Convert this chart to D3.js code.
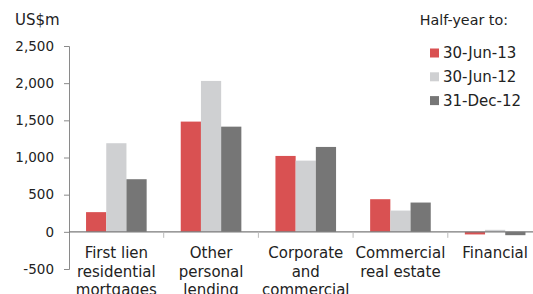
<!DOCTYPE html>
<html>
<head>
<meta charset="utf-8">
<script src="https://cdn.jsdelivr.net/npm/d3@7"></script>
<style>
body { margin: 0; background: #fff; }
svg { display: block; font-family: "DejaVu Sans", sans-serif; }
</style>
</head>
<body>
<script>
var width = 533;
var height = 294;

// data
var categories = ["First lien residential mortgages", "Other personal lending", "Corporate and commercial", "Commercial real estate", "Financial"];
var catLines = [["First lien", "residential", "mortgages"], ["Other", "personal", "lending"], ["Corporate", "and", "commercial"], ["Commercial", "real estate"], ["Financial"]];
var series = ["30-Jun-13", "30-Jun-12", "31-Dec-12"];
var jun13 = [265, 1483, 1021, 439, -35];
var jun12 = [1192, 2030, 958, 286, 27];
var dec12 = [708, 1415, 1142, 394, -45];
var yTicks = [-500, 0, 500, 1000, 1500, 2000, 2500];
var colors = ["#d95152", "#cfd0d2", "#767676"];

var values = [jun13, jun12, dec12];

var svgTag = d3.select("body").append("svg")
	.attr("width", width)
	.attr("height", height);

var x = d3.scaleBand()
	.domain(categories)
	.range([69, 69 + 5 * 94.7]);

var inset = x.bandwidth() * 0.18;
var x1 = d3.scaleBand()
	.domain(series)
	.range([inset, x.bandwidth() - inset]);

var y = d3.scaleLinear()
	.domain([-500, 2500])
	.range([269, 46]);

// bars
var groups = svgTag.selectAll("g.grupo")
	.data(categories)
	.enter().append("g")
	.attr("class", "grupo")
	.attr("transform", d => "translate(" + x(d) + ",0)");

groups.selectAll("rect")
	.data((d, i) => series.map((s, j) => ({serie: s, valor: values[j][i], cor: colors[j]})))
	.enter().append("rect")
	.attr("x", d => x1(d.serie))
	.attr("width", x1.bandwidth())
	.attr("y", d => y(Math.max(0, d.valor)))
	.attr("height", d => Math.abs(y(d.valor) - y(0)))
	.attr("fill", d => d.cor);

// y axis
var yAxis = svgTag.append("g")
	.attr("transform", "translate(69,0)")
	.call(d3.axisLeft(y).tickValues(yTicks).tickSize(5).tickPadding(10)
		.tickFormat(d => d < 0 ? "-" + d3.format(",")(-d) : d3.format(",")(d)));
yAxis.select(".domain").attr("stroke", "#8a8a8a");
yAxis.selectAll(".tick line").attr("stroke", "#8a8a8a");
yAxis.selectAll(".tick text")
	.attr("fill", "#222")
	.style("font-size", "13.5px")
	.style("font-family", "DejaVu Sans, sans-serif");

// zero line with category separators
var xAxis = svgTag.append("g")
	.attr("transform", "translate(0," + y(0) + ")");
xAxis.append("line")
	.attr("x1", 69).attr("x2", width)
	.attr("stroke", "#7a7a7a")
	.attr("stroke-width", 1.2);
xAxis.selectAll("line.sep")
	.data(categories.slice(1))
	.enter().append("line")
	.attr("class", "sep")
	.attr("x1", d => x(d)).attr("x2", d => x(d))
	.attr("y1", 0).attr("y2", 6)
	.attr("stroke", "#bbb");

// category labels
svgTag.selectAll("text.cat")
	.data(categories)
	.enter().append("text")
	.attr("class", "cat")
	.attr("text-anchor", "middle")
	.attr("fill", "#222")
	.style("font-size", "15px")
	.each(function (d, i) {
		var t = d3.select(this);
		catLines[i].forEach((linha, k) => {
			t.append("tspan")
				.attr("x", x(d) + x.bandwidth() / 2)
				.attr("y", 258 + k * 18.7)
				.text(linha);
		});
	});

// unit and legend
svgTag.append("text")
	.attr("x", 15).attr("y", 25)
	.attr("fill", "#222")
	.style("font-size", "15px")
	.text("US$m");

svgTag.append("text")
	.attr("x", 508).attr("y", 25)
	.attr("text-anchor", "end")
	.attr("fill", "#222")
	.style("font-size", "14.3px")
	.text("Half-year to:");

var legenda = svgTag.selectAll("g.legenda")
	.data(series)
	.enter().append("g")
	.attr("class", "legenda")
	.attr("transform", (d, i) => "translate(430," + (48.5 + i * 23.8) + ")");
legenda.append("rect")
	.attr("width", 9).attr("height", 9)
	.attr("fill", (d, i) => colors[i]);
legenda.append("text")
	.attr("x", 13).attr("y", 4.5)
	.attr("dy", "0.36em")
	.attr("fill", "#222")
	.style("font-size", "15px")
	.text(d => d);
</script>
</body>
</html>
